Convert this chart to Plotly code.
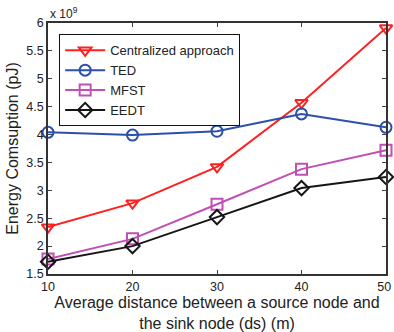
import plotly.graph_objects as go

distance = [10, 20, 30, 40, 50]
centralized = [2.34, 2.77, 3.42, 4.57, 5.91]
ted = [4.04, 3.99, 4.06, 4.37, 4.13]
mfst = [1.77, 2.13, 2.75, 3.38, 3.72]
eedt = [1.72, 2.00, 2.52, 3.04, 3.24]
y_ticks = [1.5, 2, 2.5, 3, 3.5, 4, 4.5, 5, 5.5, 6]
x_ticks = [10, 20, 30, 40, 50]
x_ticktext = ["10", "20", "30", "40", "50\u00a0"]

series = [
    ("Centralized approach", centralized, "#ff1f1f", "triangle-down-open"),
    ("TED", ted, "#2b4faa", "circle-open"),
    ("MFST", mfst, "#c04fb4", "square-open"),
    ("EEDT", eedt, "#151515", "diamond-open"),
]

fig = go.Figure()
for name, vals, col, sym in series:
    fig.add_trace(go.Scatter(
        x=distance, y=vals, name=name, mode="lines+markers",
        line=dict(color=col, width=2),
        marker=dict(symbol=sym, size=11, color=col, line=dict(width=2, color=col)),
        cliponaxis=False,
    ))

font = dict(family="Liberation Sans, Arial, sans-serif", size=12.5, color="#222")
fig.update_layout(
    width=394, height=332,
    margin=dict(l=48, r=8, t=23, b=58),
    paper_bgcolor="white", plot_bgcolor="white",
    font=font,
    showlegend=True,
    legend=dict(x=0.033, y=0.955, xanchor="left", yanchor="top",
                bordercolor="#111", borderwidth=1, bgcolor="white",
                font=dict(size=13), tracegroupgap=0, itemwidth=40),
    xaxis=dict(range=[10, 50], tickvals=x_ticks, ticktext=x_ticktext,
               ticks="inside", ticklen=4,
               showline=True, linecolor="#333", linewidth=1.5, mirror="ticks",
               showgrid=False, zeroline=False, automargin=False,
               ticklabeloverflow="allow",
               title=dict(text="Average distance between a source node and<br>the sink node (ds) (m)",
                          font=dict(size=16), standoff=0)),
    yaxis=dict(range=[1.5, 6], tickvals=y_ticks, ticks="inside", ticklen=4,
               showline=True, linecolor="#333", linewidth=1.5, mirror="ticks",
               showgrid=False, zeroline=False, automargin=False,
               ticklabeloverflow="allow",
               title=dict(text="Energy Comsuption (pJ)", font=dict(size=16), standoff=4)),
    annotations=[dict(text="x 10<sup>9</sup>", xref="paper", yref="paper",
                      x=0, y=1.0, xanchor="left", yanchor="bottom",
                      showarrow=False, font=dict(size=12))],
)
fig.write_html("out.html")
